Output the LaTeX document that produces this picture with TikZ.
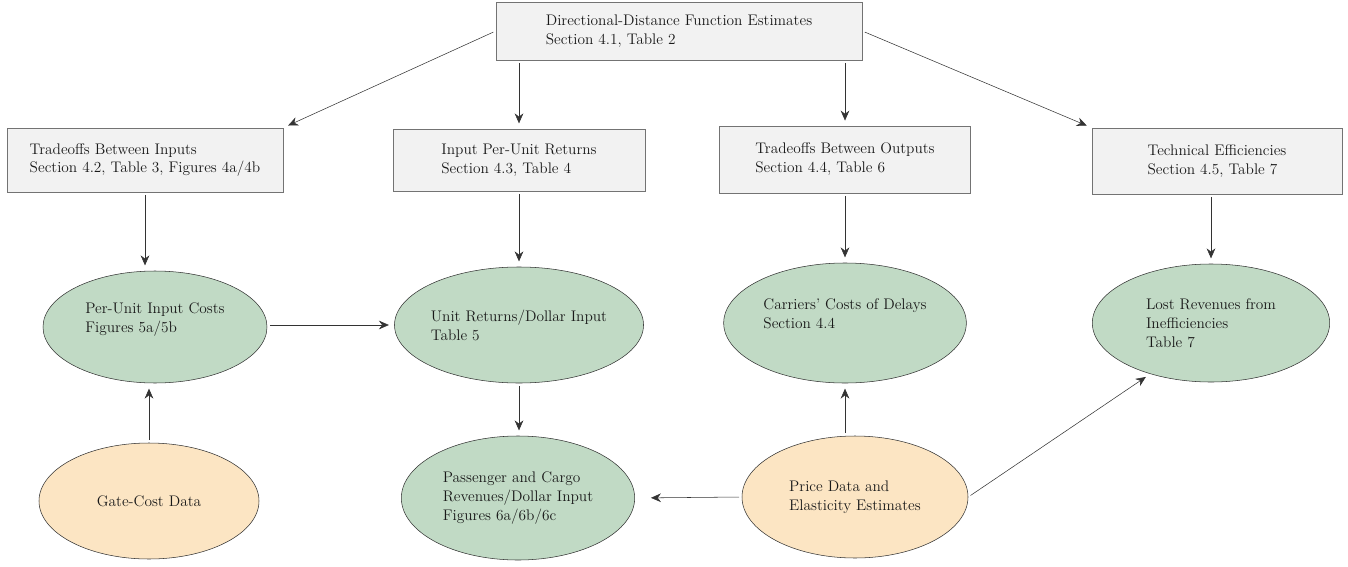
\documentclass[tikz,border=0pt]{standalone}
\usetikzlibrary{arrows.meta,shapes.geometric}
\definecolor{boxgray}{RGB}{242,242,242}
\definecolor{sage}{RGB}{193,218,197}
\definecolor{wheat}{RGB}{252,229,195}
\begin{document}
\begin{tikzpicture}[x=0.75pt,y=-0.75pt,
	every node/.style={font=\fontsize{11.5}{14.2}\selectfont,align=left,text=black!90},
	est/.style={rectangle,draw=black!55,fill=boxgray},
	res/.style={ellipse,draw=black!80,fill=sage,inner sep=0pt},
	dat/.style={ellipse,draw=black!80,fill=wheat,inner sep=0pt},
	arr/.style={-{Stealth[length=7.5pt,width=6.5pt]},draw=black!80,shorten >=4pt,shorten <=2pt}]
	\useasboundingbox (0,0) rectangle (1348,567);
	% estimates
	\node[est,minimum width=274.5pt,minimum height=43.5pt] (dist) at (679,31) {Directional-Distance Function Estimates\\Section 4.1, Table 2};
	\node[est,minimum width=207pt,minimum height=48pt] (tin) at (145,160) {Tradeoffs Between Inputs\\Section 4.2, Table 3, Figures 4a/4b};
	\node[est,minimum width=189pt,minimum height=46.5pt] (rin) at (519,160) {Input Per-Unit Returns\\Section 4.3, Table 4};
	\node[est,minimum width=188pt,minimum height=50pt] (tout) at (845,159.5) {Tradeoffs Between Outputs\\Section 4.4, Table 6};
	\node[est,minimum width=187.5pt,minimum height=49.5pt] (teff) at (1217,161) {Technical Efficiencies\\Section 4.5, Table 7};
	% results
	\node[res,minimum width=168pt,minimum height=84pt] (cost) at (155,327) {Per-Unit Input Costs\\Figures 5a/5b\\\mbox{}};
	\node[res,minimum width=184pt,minimum height=87pt] (ret) at (519,325) {Unit Returns/Dollar Input\\Table 5};
	\node[res,minimum width=182pt,minimum height=90pt] (delay) at (845,323) {Carriers' Costs of Delays\\Section 4.4\\\mbox{}};
	\node[res,minimum width=178pt,minimum height=88.5pt] (lost) at (1211,323) {Lost Revenues from\\Inefficiencies\\Table 7};
	\node[res,minimum width=175pt,minimum height=93pt] (rev) at (518,498) {Passenger and Cargo\\Revenues/Dollar Input\\Figures 6a/6b/6c};
	% data
	\node[dat,minimum width=165pt,minimum height=87pt] (gate) at (149,501) {Gate-Cost Data};
	\node[dat,minimum width=169.5pt,minimum height=91.5pt] (price) at (855,497) {Price Data and\\Elasticity Estimates};
	% arrows
	\draw[arr] (dist.west) -- (tin.north east);
	\draw[arr] (dist.south -| rin.north) -- (rin.north);
	\draw[arr] (dist.south -| tout.north) -- (tout.north);
	\draw[arr] (dist.east) -- (teff.north west);
	\draw[arr] (tin.south) -- (tin.south |- cost.north);
	\draw[arr] (rin.south) -- (rin.south |- ret.north);
	\draw[arr] (tout.south) -- (tout.south |- delay.north);
	\draw[arr] (teff.south -| lost.north) -- (lost.north);
	\draw[arr] (cost.east |- ret.west) -- (ret.west);
	\draw[arr] (gate.north) -- (gate.north |- cost.south);
	\draw[arr] (ret.south) -- (ret.south |- rev.north);
	\draw[arr,shorten >=12pt] (price.west) -- (rev.east);
	\draw[arr] (price.north -| delay.south) -- (delay.south);
	\draw[arr] (price.east) -- (lost.220);
\end{tikzpicture}
\end{document}
